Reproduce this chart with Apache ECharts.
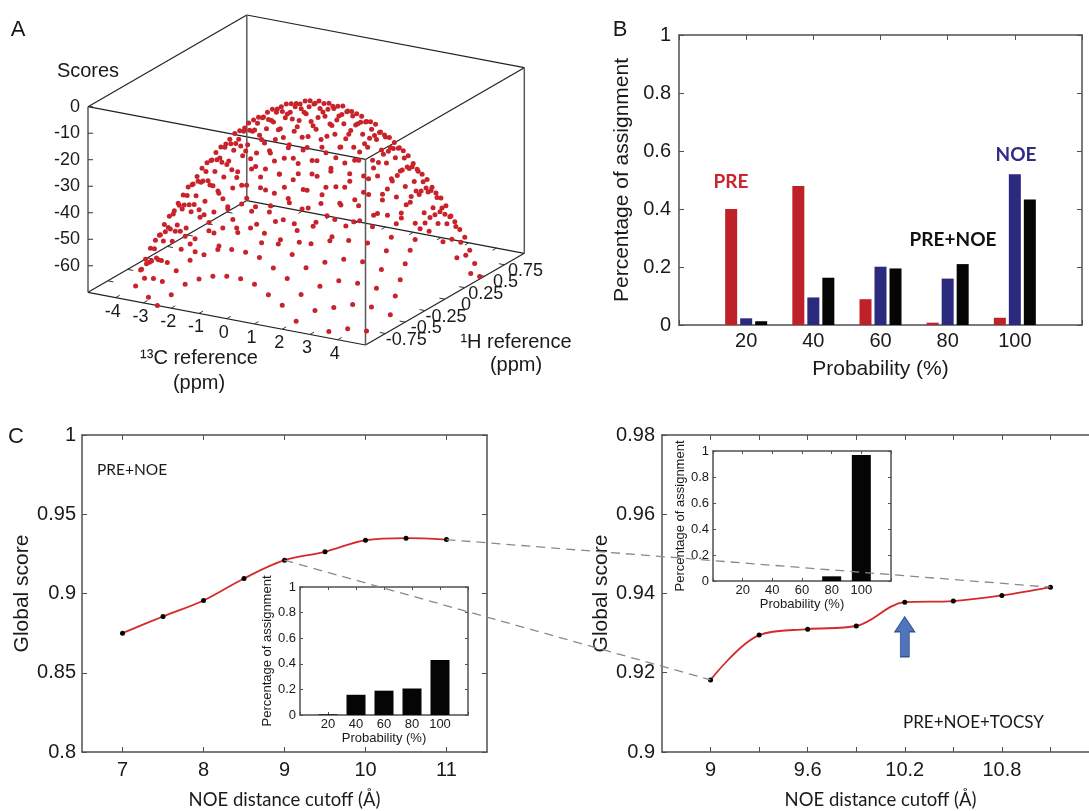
<!DOCTYPE html>
<html>
<head>
<meta charset="utf-8">
<script src="https://cdn.jsdelivr.net/npm/echarts@6/dist/echarts.min.js"></script>
<style>
html, body { margin: 0; padding: 0; background: #fff; }
#main { width: 1089px; height: 811px; }
</style>
</head>
<body>
<div id="main"></div>
<script>
// ---- panel A: score surface over the referencing grid ----
const c13Ref = [-4.5, -4, -3.5, -3, -2.5, -2, -1.5, -1, -0.5, 0, 0.5, 1, 1.5, 2, 2.5, 3, 3.5, 4, 4.5, 5];
const h1Ref = [-1, -0.9375, -0.875, -0.8125, -0.75, -0.6875, -0.625, -0.5625, -0.5, -0.4375, -0.375, -0.3125,
  -0.25, -0.1875, -0.125, -0.0625, 0, 0.0625, 0.125, 0.1875, 0.25, 0.3125, 0.375, 0.4375, 0.5];
// one row per 1H value, one column per 13C value (null = below the floor)
const scoreRows = [
  [null, null, null, null, -70, -65, -60, -57, -55, -54, -54, -55, -58, -61, -66, null, null, null, null, null],
  [null, null, null, -69, -62, -57, -52, -49, -46, -45, -45, -46, -49, -52, -57, -62, -69, null, null, null],
  [null, null, null, -63, -56, -50, -45, -41, -39, -38, -37, -38, -41, -44, -48, -54, -61, -68, null, null],
  [null, null, -65, -57, -49, -43, -38, -35, -32, -30, -30, -31, -33, -36, -40, -46, -52, -60, -69, null],
  [null, -70, -60, -51, -44, -38, -33, -29, -26, -24, -24, -25, -26, -29, -33, -39, -45, -53, -61, null],
  [null, -65, -56, -47, -39, -33, -28, -24, -21, -19, -18, -19, -20, -23, -27, -32, -39, -46, -55, -64],
  [null, -62, -52, -43, -35, -29, -24, -19, -16, -14, -13, -14, -15, -18, -22, -27, -33, -40, -49, -58],
  [null, -59, -49, -40, -32, -26, -20, -16, -13, -10, -9, -10, -11, -14, -17, -22, -28, -35, -43, -53],
  [-69, -57, -47, -38, -30, -23, -17, -13, -9, -7, -6, -6, -7, -10, -13, -18, -24, -31, -39, -48],
  [-68, -56, -46, -36, -28, -21, -15, -11, -7, -5, -3, -3, -4, -7, -10, -14, -20, -27, -35, -44],
  [-68, -56, -45, -36, -27, -20, -14, -9, -6, -3, -2, -1, -2, -4, -8, -12, -17, -24, -32, -41],
  [-68, -56, -46, -36, -27, -20, -14, -9, -5, -2, -1, 0, -1, -3, -6, -10, -16, -22, -30, -38],
  [-70, -58, -47, -37, -28, -21, -14, -9, -5, -2, -1, 0, -1, -2, -5, -9, -14, -21, -28, -37],
  [null, -59, -48, -38, -30, -22, -16, -10, -6, -3, -1, 0, -1, -2, -5, -9, -14, -20, -27, -36],
  [null, -62, -51, -41, -32, -24, -17, -12, -8, -4, -2, -2, -2, -3, -6, -9, -14, -20, -28, -36],
  [null, -66, -54, -44, -35, -27, -20, -14, -10, -7, -4, -3, -3, -5, -7, -11, -15, -21, -28, -36],
  [null, -70, -58, -48, -39, -31, -24, -18, -13, -10, -7, -6, -6, -7, -9, -13, -17, -23, -30, -38],
  [null, null, -63, -53, -43, -35, -28, -22, -17, -14, -11, -10, -9, -10, -13, -16, -20, -26, -32, -40],
  [null, null, -69, -58, -49, -40, -33, -27, -22, -18, -15, -14, -13, -14, -16, -19, -24, -29, -35, -43],
  [null, null, null, -64, -55, -46, -39, -32, -27, -23, -20, -19, -18, -19, -21, -24, -28, -33, -39, -47],
  [null, null, null, null, -61, -53, -45, -39, -33, -29, -26, -25, -24, -24, -26, -29, -33, -38, -44, -51],
  [null, null, null, null, -69, -60, -52, -46, -40, -36, -33, -31, -30, -30, -32, -35, -38, -43, -49, -57],
  [null, null, null, null, null, -68, -61, -54, -48, -44, -41, -38, -37, -37, -39, -41, -45, -50, -56, -63],
  [null, null, null, null, null, null, -69, -62, -57, -52, -49, -46, -45, -45, -46, -49, -52, -57, -62, -69],
  [null, null, null, null, null, null, null, null, -66, -61, -58, -55, -54, -54, -55, -57, -60, -65, -70, null]
];
const zTicks = [0, -10, -20, -30, -40, -50, -60];
const c13Ticks = [-4, -3, -2, -1, 0, 1, 2, 3, 4];
const h1Ticks = [-0.75, -0.5, -0.25, 0, 0.25, 0.5, 0.75];

// ---- panel B ----
const probCats = [20, 40, 60, 80, 100];
const prePct = [0.40, 0.479, 0.089, 0.008, 0.025];
const noePct = [0.023, 0.095, 0.201, 0.16, 0.52];
const preNoePct = [0.013, 0.163, 0.195, 0.21, 0.433];

// ---- panel C ----
const cutoffA = [7, 7.5, 8, 8.5, 9, 9.5, 10, 10.5, 11];
const scoreA = [0.875, 0.8855, 0.8956, 0.9095, 0.921, 0.9263, 0.9336, 0.9349, 0.934];
const insetA = [0.005, 0.158, 0.19, 0.207, 0.43];
const cutoffB = [9, 9.3, 9.6, 9.9, 10.2, 10.5, 10.8, 11.1];
const scoreB = [0.9182, 0.9295, 0.931, 0.9318, 0.9378, 0.9381, 0.9395, 0.9416];
const insetB = [0, 0, 0, 0.036, 0.969];
const arrowAt = [10.2, 0.9291];

const SANS = '"Liberation Sans", Arial, sans-serif';
const HUM = 'Lato, "Open Sans", sans-serif';
const AXC = '#505050';
const TXT = '#1a1a1a';

const chart = echarts.init(document.getElementById('main'));

// 3d projection for panel A (box frame: 13C -5..5, 1H -1..1, score -70..0)
const ORIGIN = [88, 292.3];
const UVEC = [277.5, 52.7];
const VVEC = [158.8, -91.7];
const WH = 185.6;
function proj(c, h, s) {
  const u = (c + 5) / 10, v = (h + 1) / 2, w = (s + 70) / 70;
  return [ORIGIN[0] + UVEC[0] * u + VVEC[0] * v, ORIGIN[1] + UVEC[1] * u + VVEC[1] * v - WH * w];
}

const surfacePts = [];
scoreRows.forEach((row, i) => {
  row.forEach((s, j) => {
    if (s !== null) surfacePts.push([c13Ref[j], h1Ref[i], s]);
  });
});

function xAx(gi, pos, min, max, o) {
  const main = pos === 'bottom';
  return {
    type: 'value', gridIndex: gi, position: pos, min: min, max: max, interval: o.interval,
    axisLine: { show: true, onZero: false, lineStyle: { color: AXC, width: 1.5 } },
    axisTick: { show: true, inside: true, length: o.tl || 5, lineStyle: { color: AXC }, customValues: o.ticks },
    axisLabel: { show: main, margin: o.margin, fontFamily: SANS, fontSize: o.fs, color: TXT,
      formatter: o.fmt, customValues: o.labels },
    splitLine: { show: false },
    name: main ? o.name : '', nameLocation: 'middle', nameGap: o.nameGap,
    nameTextStyle: { fontFamily: o.nameFont || SANS, fontSize: o.nfs, color: TXT }
  };
}
function yAx(gi, pos, min, max, o) {
  const main = pos === 'left';
  return {
    type: 'value', gridIndex: gi, position: pos, min: min, max: max, interval: o.interval,
    axisLine: { show: true, onZero: false, lineStyle: { color: AXC, width: 1.5 } },
    axisTick: { show: true, inside: true, length: o.tl || 5, lineStyle: { color: AXC } },
    axisLabel: { show: main, margin: o.margin, fontFamily: SANS, fontSize: o.fs, color: TXT },
    splitLine: { show: false },
    name: main ? o.name : '', nameLocation: 'middle', nameRotate: 90, nameGap: o.nameGap,
    nameTextStyle: { fontFamily: SANS, fontSize: o.nfs, color: TXT }
  };
}
const probFmt = v => (v > 0 && v < 120) ? String(v) : '';

const bx = { interval: 20, fs: 20, margin: 6, fmt: probFmt, name: 'Probability (%)', nameGap: 34, nfs: 21 };
const by = { interval: 0.2, fs: 20, margin: 8, name: 'Percentage of assignment', nameGap: 46, nfs: 21 };
const clx = { ticks: [7, 8, 9, 10, 11], labels: [7, 8, 9, 10, 11], fs: 20, margin: 8,
  name: 'NOE distance cutoff (\u00c5)', nameFont: HUM, nameGap: 39, nfs: 18.5 };
const cly = { interval: 0.05, fs: 20, margin: 6, name: 'Global score', nameGap: 41, nfs: 21 };
const ix = { interval: 20, fs: 13, margin: 3, fmt: probFmt, name: 'Probability (%)', nameGap: 16, nfs: 13, tl: 3 };
const iy = { interval: 0.2, fs: 13, margin: 4, name: 'Percentage of assignment', nameGap: 22, nfs: 13, tl: 3 };
const crx = { ticks: cutoffB, labels: [9, 9.6, 10.2, 10.8], fs: 20, margin: 8,
  name: 'NOE distance cutoff (\u00c5)', nameFont: HUM, nameGap: 39, nfs: 18.5 };
const cry = { interval: 0.02, fs: 20, margin: 7, name: 'Global score', nameGap: 47, nfs: 21 };

const option = {
  animation: false,
  backgroundColor: '#fff',
  grid: [
    { left: 679, top: 35, width: 403, height: 290, outerBoundsMode: 'none' },
    { left: 82, top: 435, width: 405, height: 317, outerBoundsMode: 'none' },
    { left: 300, top: 587, width: 168, height: 128, outerBoundsMode: 'none' },
    { left: 662, top: 435, width: 437, height: 317, outerBoundsMode: 'none' },
    { left: 713, top: 451, width: 178, height: 130, outerBoundsMode: 'none' }
  ],
  xAxis: [
    xAx(0, 'bottom', 0, 120, bx), xAx(0, 'top', 0, 120, bx),
    xAx(1, 'bottom', 6.5, 11.5, clx), xAx(1, 'top', 6.5, 11.5, clx),
    xAx(2, 'bottom', 0, 120, ix), xAx(2, 'top', 0, 120, ix),
    xAx(3, 'bottom', 8.7, 11.4, crx), xAx(3, 'top', 8.7, 11.4, crx),
    xAx(4, 'bottom', 0, 120, ix), xAx(4, 'top', 0, 120, ix)
  ],
  yAxis: [
    yAx(0, 'left', 0, 1, by), yAx(0, 'right', 0, 1, by),
    yAx(1, 'left', 0.8, 1, cly), yAx(1, 'right', 0.8, 1, cly),
    yAx(2, 'left', 0, 1, iy), yAx(2, 'right', 0, 1, iy),
    yAx(3, 'left', 0.9, 0.98, cry), yAx(3, 'right', 0.9, 0.98, cry),
    yAx(4, 'left', 0, 1, iy), yAx(4, 'right', 0, 1, iy)
  ],
  series: [
    { type: 'bar', name: 'PRE', xAxisIndex: 0, yAxisIndex: 0, barWidth: 12, barGap: '25%',
      data: probCats.map((p, i) => [p, prePct[i]]), itemStyle: { color: '#bf2129' } },
    { type: 'bar', name: 'NOE', xAxisIndex: 0, yAxisIndex: 0, barWidth: 12, barGap: '25%',
      data: probCats.map((p, i) => [p, noePct[i]]), itemStyle: { color: '#2b2a7e' } },
    { type: 'bar', name: 'PRE+NOE', xAxisIndex: 0, yAxisIndex: 0, barWidth: 12, barGap: '25%',
      data: probCats.map((p, i) => [p, preNoePct[i]]), itemStyle: { color: '#050505' } },
    { type: 'line', xAxisIndex: 2, yAxisIndex: 2, smooth: 0.35, symbol: 'circle', symbolSize: 5,
      data: cutoffA.map((x, i) => [x, scoreA[i]]),
      lineStyle: { color: '#d42a2a', width: 1.8 }, itemStyle: { color: '#000' } },
    { type: 'bar', xAxisIndex: 4, yAxisIndex: 4, barWidth: 19,
      data: probCats.map((p, i) => [p, insetA[i]]), itemStyle: { color: '#050505' } },
    { type: 'line', xAxisIndex: 6, yAxisIndex: 6, smooth: 0.35, symbol: 'circle', symbolSize: 5,
      data: cutoffB.map((x, i) => [x, scoreB[i]]),
      lineStyle: { color: '#d42a2a', width: 1.8 }, itemStyle: { color: '#000' },
      markPoint: {
        symbol: 'path://M10 0 L20 15 L14.5 15 L14.5 40 L5.5 40 L5.5 15 L0 15 Z',
        symbolSize: [20, 40], label: { show: false },
        itemStyle: { color: '#5274bb', borderColor: '#33528f', borderWidth: 1 },
        data: [{ coord: arrowAt }]
      } },
    { type: 'bar', xAxisIndex: 8, yAxisIndex: 8, barWidth: 19,
      data: probCats.map((p, i) => [p, insetB[i]]), itemStyle: { color: '#050505' } },
    { type: 'custom', coordinateSystem: 'none', data: surfacePts, silent: true, z: 5,
      renderItem: function (params, api) {
        const p = proj(api.value(0), api.value(1), api.value(2));
        return { type: 'circle', shape: { cx: p[0], cy: p[1], r: 2.5 }, style: { fill: '#c8232b' } };
      } }
  ]
};
chart.setOption(option);

// frame, ticks and texts of the 3d panel, plus annotations and zoom connectors
const g = [];
function seg(a, b, color, w, dash) {
  g.push({ type: 'line', silent: true, z: dash ? 20 : 2,
    shape: { x1: a[0], y1: a[1], x2: b[0], y2: b[1] },
    style: { stroke: color, lineWidth: w, lineDash: dash || null } });
}
function txt(t, x, y, size, align, vAlign, extra) {
  g.push({ type: 'text', silent: true, z: 10, x: x, y: y,
    style: Object.assign({ text: t, fontSize: size, fontFamily: SANS, fill: TXT,
      align: align, verticalAlign: vAlign, textAlign: align, textVerticalAlign: vAlign }, extra || {}) });
}

const cs = [-5, 5], hs = [-1, 1], ss = [-70, 0];
ss.forEach(s => {
  seg(proj(-5, -1, s), proj(5, -1, s), '#222', 1.2);
  seg(proj(5, -1, s), proj(5, 1, s), '#222', 1.2);
  seg(proj(5, 1, s), proj(-5, 1, s), '#222', 1.2);
  seg(proj(-5, 1, s), proj(-5, -1, s), '#222', 1.2);
});
cs.forEach(c => hs.forEach(h => seg(proj(c, h, -70), proj(c, h, 0), '#5a5a5a', 1.5)));
zTicks.forEach(s => {
  const p = proj(-5, -1, s);
  seg(p, [p[0] + 5, p[1]], '#333', 1);
  txt(String(s), 80, p[1], 18, 'right', 'middle');
});
c13Ticks.forEach(c => {
  seg(proj(c, -1, -70), proj(c, -0.95, -70), '#333', 1);
  seg(proj(c, 1, -70), proj(c, 0.95, -70), '#333', 1);
  const p = proj(c, -1, -70);
  txt(String(c), p[0] - 3, p[1] + 14, 18, 'center', 'middle');
});
h1Ticks.forEach(h => {
  seg(proj(5, h, -70), proj(4.8, h, -70), '#333', 1);
  seg(proj(-5, h, -70), proj(-4.8, h, -70), '#333', 1);
  const p = proj(5, h, -70);
  txt(String(h), p[0] + 21, p[1] + 6, 18, 'center', 'middle');
});
txt('Scores', 88, 71, 20, 'center', 'middle');
txt('\u00b9\u00b3C reference', 199, 358, 20, 'center', 'middle');
txt('(ppm)', 199, 383, 20, 'center', 'middle');
txt('\u00b9H reference', 516, 342, 20, 'center', 'middle');
txt('(ppm)', 516, 365, 20, 'center', 'middle');

// panel letters
txt('A', 18, 30, 22, 'center', 'middle');
txt('B', 620, 30, 22, 'center', 'middle');
txt('C', 16, 437, 22, 'center', 'middle');

// panel B labels
txt('PRE', 731, 182, 19, 'center', 'middle', { fontFamily: HUM, fontWeight: 'bold', fill: '#c8252c' });
txt('NOE', 1016, 155, 19, 'center', 'middle', { fontFamily: HUM, fontWeight: 'bold', fill: '#2e2c86' });
txt('PRE+NOE', 953, 240, 19, 'center', 'middle', { fontFamily: HUM, fontWeight: 'bold', fill: '#111' });

// panel C labels
txt('PRE+NOE', 97, 470, 15.5, 'left', 'middle', { fontFamily: HUM });
txt('PRE+NOE+TOCSY', 903, 723, 17, 'left', 'middle', { fontFamily: HUM });

// dashed connectors between the two score curves
const a1 = chart.convertToPixel({ gridIndex: 1 }, [cutoffA[8], scoreA[8]]);
const b1 = chart.convertToPixel({ gridIndex: 3 }, [cutoffB[7], scoreB[7]]);
const a2 = chart.convertToPixel({ gridIndex: 1 }, [cutoffA[4], scoreA[4]]);
const b2 = chart.convertToPixel({ gridIndex: 3 }, [cutoffB[0], scoreB[0]]);
seg(a1, b1, '#8a8a8a', 1.3, [9, 6]);
seg(a2, b2, '#8a8a8a', 1.3, [9, 6]);

chart.setOption({ graphic: { elements: g } });
</script>
</body>
</html>
